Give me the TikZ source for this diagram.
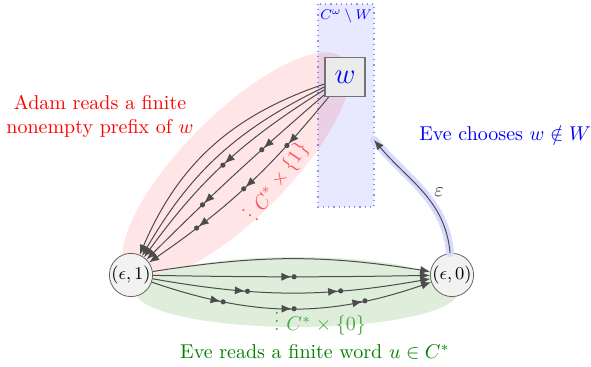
\documentclass[tikz,border=0pt]{standalone}
\usetikzlibrary{arrows.meta,decorations.markings,calc}
\definecolor{regG}{RGB}{222,238,218}
\definecolor{labG}{RGB}{70,170,70}
\definecolor{labR}{RGB}{255,80,80}
\definecolor{txtG}{RGB}{0,128,0}
\newcommand\stopmark{\arrow{Latex[length=5pt,width=4pt]}\fill (1.3pt,0) circle (1.3pt);}
\tikzset{
  edgeline/.style={draw=black!70, color=black!70, line width=0.5pt, -{Latex[length=5pt,width=4pt]}},
  stopone/.style={postaction={decorate}, decoration={markings, mark=at position 0.5 with {\stopmark}}},
  stoptwo/.style={postaction={decorate}, decoration={markings, mark=at position 0.333 with {\stopmark}, mark=at position 0.667 with {\stopmark}}},
  stopthree/.style={postaction={decorate}, decoration={markings, mark=at position 0.25 with {\stopmark}, mark=at position 0.5 with {\stopmark}, mark=at position 0.75 with {\stopmark}}},
  statenode/.style={circle, draw=black!60, fill=black!5, inner sep=0pt, minimum size=20pt, font=\small},
  wbox/.style={rectangle, draw=black!55, fill=black!8, line width=0.6pt, minimum width=20pt, minimum height=19.5pt, inner sep=0pt, font=\Large, text=blue},
}
\begin{document}
\begin{tikzpicture}[x=0.5pt, y=-0.5pt]
\useasboundingbox (0,0) rectangle (591,367);
% regions
\fill[blue!9] (318,4) rectangle (374,207);
\draw[blue!45, dotted, line width=0.6pt] (318,4) rectangle (374,207);
\fill[red, fill opacity=0.1] (236,166) ellipse [x radius=152, y radius=52, rotate=45];
\fill[regG] (297,292) ellipse [x radius=161, y radius=35];
% nodes
\node[statenode] (e1) at (131,275) {$(\epsilon,1)$};
\node[statenode] (e0) at (452,275) {$(\epsilon,0)$};
\node[wbox] (w) at (345,77) {$w$};
\node[text=blue, font=\footnotesize, scale=0.88] (cw) at (346,16) {$C^\omega\setminus W$};
\coordinate (rin) at (374,140);
% blue edge
\draw[blue!15, line width=4pt, line cap=round] (e0.95) to[out=95,in=-50] (rin);
\draw[edgeline] (e0.95) to[out=95,in=-50] node[pos=0.5, right=2pt, text=black!80] (eps) {$\varepsilon$} (rin);
% top curves
\draw[edgeline] (w) to[bend right=24] (e1);
\draw[edgeline] (w) to[bend right=17] (e1);
\draw[edgeline, stopone] (w) to[bend right=11] (e1);
\draw[edgeline, stoptwo] (w) to[bend right=2] (e1);
\draw[edgeline, stopthree] (w) to[bend left=8] (e1);
% bottom curves
\draw[edgeline] (e1) to[bend left=9] (e0);
\draw[edgeline, stopone] (e1) to[bend right=1] (e0);
\draw[edgeline, stoptwo] (e1) to[bend right=10] (e0);
\draw[edgeline, stopthree] (e1) to[bend right=19] (e0);
% labels
\node[text=red, align=center] (adam) at (100,116) {Adam reads a finite\\nonempty prefix of $w$};
\node[text=blue] (evec) at (505,133) {Eve chooses $w\notin W$};
\node[text=txtG] (ever) at (315,352) {Eve reads a finite word $u\in C^*$};
\node[text=labG] (l0) at (320,318) {$\vdots\ C^*\times\{0\}$};
\node[text=labR, rotate=55] (l1) at (272,178) {$\vdots\ C^*\times\{1\}$};
\end{tikzpicture}
\end{document}
